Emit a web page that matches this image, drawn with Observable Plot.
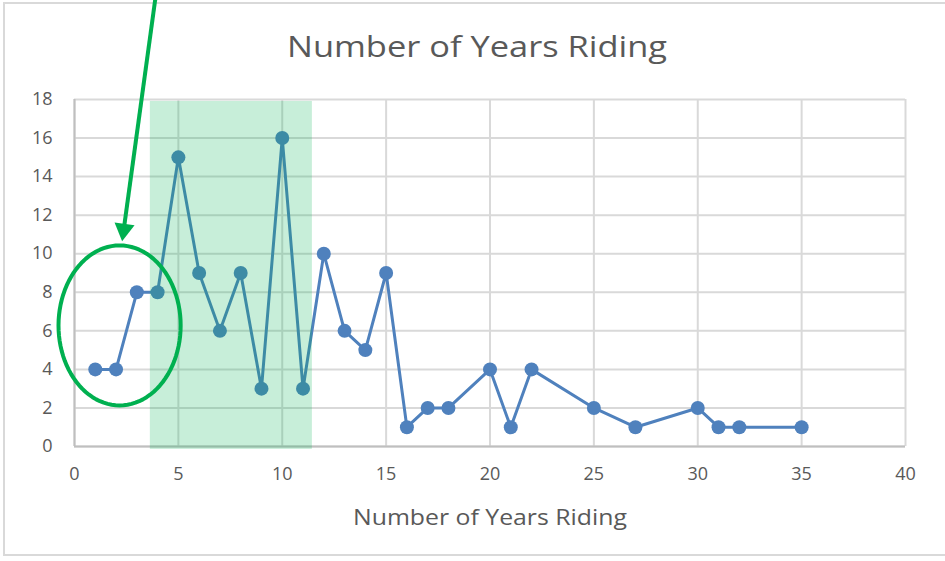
<!DOCTYPE html>
<html>
<head>
<meta charset="utf-8">
<script src="https://cdn.jsdelivr.net/npm/d3@7"></script>
<script src="https://cdn.jsdelivr.net/npm/@observablehq/plot@0.6"></script>
<style>
  html, body { margin: 0; padding: 0; background: #fff; }
  #wrap { position: relative; width: 945px; height: 561px; overflow: hidden; }
  #border { position: absolute; left: 3px; top: 2px; width: 960px; height: 554px;
            border: 2px solid #d9d9d9; box-sizing: border-box; }
  #chart { position: absolute; left: 0; top: 0; }
</style>
</head>
<body>
<div id="wrap"><div id="border"></div><div id="chart"></div></div>
<script>
// Data
const years  = [1,2,3,4,5,6,7,8,9,10,11,12,13,14,15,16,17,18,20,21,22,25,27,30,31,32,35];
const riders = [4,4,8,8,15,9,6,9,3,16,3,10,6,5,9,1,2,2,4,1,4,2,1,2,1,1,1];
const xTicks = [0,5,10,15,20,25,30,35,40];
const yTicks = [0,2,4,6,8,10,12,14,16,18];
const titleText = "Number of Years Riding";
const xLabelText = "Number of Years Riding";

// Annotations (data units)
const shadeX = [3.65, 11.45];
const shadeY = [-0.15, 17.9];
const ellipseCenter = [2.17, 6.28];
const ellipseRadii = [2.94, 4.15];
const arrowFrom = [3.9, 23.3];
const arrowHead = [2.37, 11.25];   // centre of the arrow head
const arrowHeadRotate = 188;

const data = years.map((x, i) => ({x, y: riders[i]}));
const ellipsePts = d3.range(0, 97).map(i => {
  const t = (i / 96) * 2 * Math.PI;
  return {x: ellipseCenter[0] + ellipseRadii[0] * Math.cos(t), y: ellipseCenter[1] + ellipseRadii[1] * Math.sin(t)};
});

const font = "'Open Sans', 'Segoe UI', sans-serif";
const green = "#00b050";
const blue = "#4f81bd";

const plot = Plot.plot({
  width: 945,
  height: 561,
  marginLeft: 74,
  marginRight: 40,
  marginTop: 99,
  marginBottom: 115,
  x: {domain: [0, 40]},
  y: {domain: [0, 18]},
  style: {fontFamily: font, fontSize: "18px", color: "#595959", background: "transparent"},
  marks: [
    Plot.gridX(xTicks, {stroke: "#d9d9d9", strokeOpacity: 1, strokeWidth: 2}),
    Plot.gridY(yTicks, {stroke: "#d9d9d9", strokeOpacity: 1, strokeWidth: 2}),
    Plot.ruleX([0], {stroke: "#bfbfbf", strokeWidth: 2}),
    Plot.ruleY([0], {stroke: "#bfbfbf", strokeWidth: 2}),
    Plot.axisX(xTicks, {tickSize: 0, tickPadding: 21, label: null, fontSize: 18, fill: "#595959"}),
    Plot.axisY(yTicks, {tickSize: 0, tickPadding: 22, label: null, fontSize: 18, fill: "#595959"}),
    Plot.line(data, {x: "x", y: "y", stroke: blue, strokeWidth: 3}),
    Plot.dot(data, {x: "x", y: "y", r: 7, fill: blue, stroke: "none"}),
    Plot.rect([{}], {x1: shadeX[0], x2: shadeX[1], y1: shadeY[0], y2: shadeY[1], fill: green, fillOpacity: 0.22}),
    Plot.line(ellipsePts, {x: "x", y: "y", stroke: green, strokeWidth: 4}),
    Plot.link([{}], {x1: arrowFrom[0], y1: arrowFrom[1], x2: arrowHead[0], y2: arrowHead[1],
                     stroke: green, strokeWidth: 4}),
    Plot.dot([{}], {x: arrowHead[0], y: arrowHead[1], symbol: "triangle", r: 7.5,
                    rotate: arrowHeadRotate, fill: green, stroke: "none"}),
    Plot.text([titleText], {frameAnchor: "top", dy: -52, dx: -13, lineAnchor: "middle",
                            fontSize: 30, fill: "#595959", text: d => d, className: "ttl"}),
    Plot.text([xLabelText], {frameAnchor: "bottom", dy: 71, lineAnchor: "middle",
                             fontSize: 22, fill: "#595959", text: d => d, className: "xlab"})
  ]
});
// widen the text to match the reference's wide typeface
d3.select(plot).selectAll(".ttl text").attr("textLength", 380).attr("lengthAdjust", "spacingAndGlyphs");
d3.select(plot).selectAll(".xlab text").attr("textLength", 274).attr("lengthAdjust", "spacingAndGlyphs");
document.getElementById("chart").appendChild(plot);
</script>
</body>
</html>
